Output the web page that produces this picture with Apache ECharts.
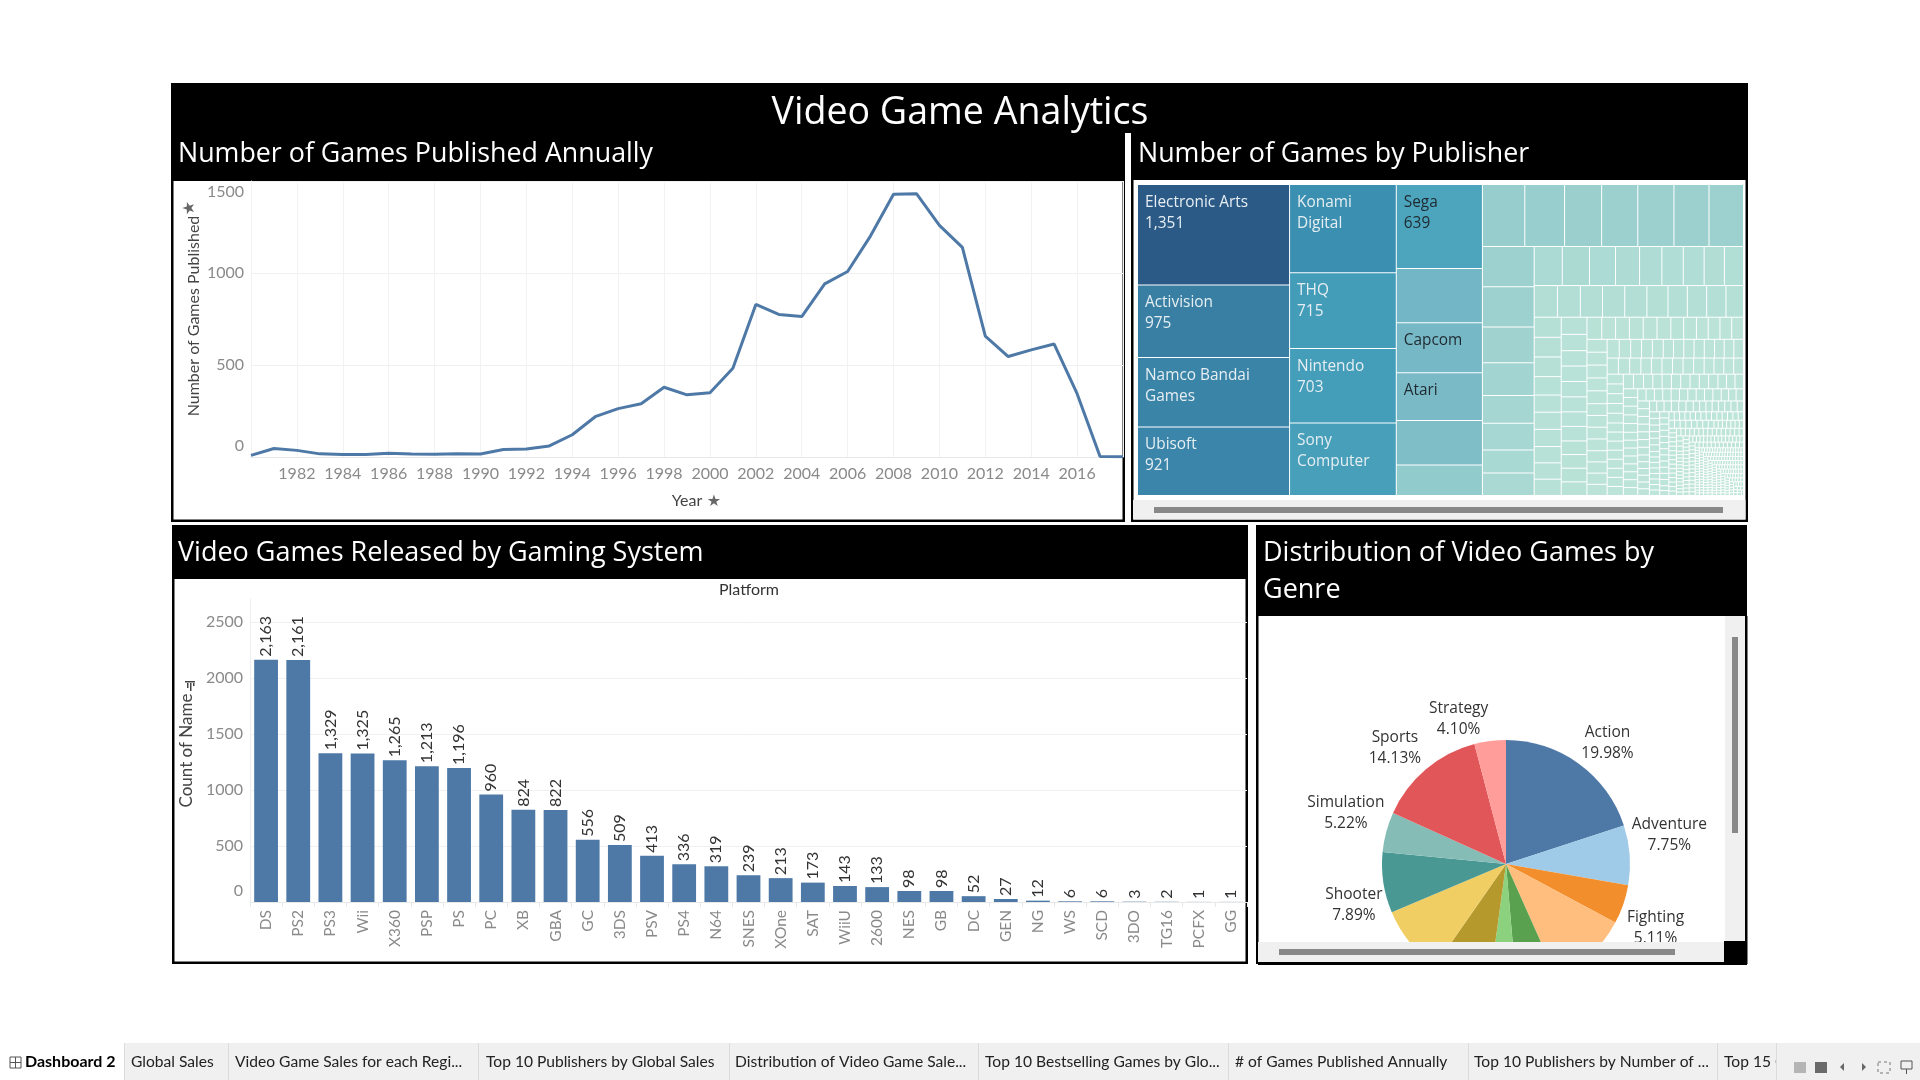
<!DOCTYPE html>
<html>
<head>
<meta charset="utf-8">
<style>html,body{margin:0;padding:0;background:#fff}#c{width:1920px;height:1080px}</style>
<script src="https://cdn.jsdelivr.net/npm/echarts@6/dist/echarts.min.js"></script>
</head>
<body>
<div id="c"></div>
<script>
const years=[1980,1981,1982,1983,1984,1985,1986,1987,1988,1989,1990,1991,1992,1993,1994,1995,1996,1997,1998,1999,2000,2001,2002,2003,2004,2005,2006,2007,2008,2009,2010,2011,2012,2013,2014,2015,2016,2017,2018];
const gamesPerYear=[9,46,36,17,14,14,21,16,15,17,16,41,43,60,121,219,263,289,379,338,349,482,829,775,763,941,1008,1202,1428,1431,1259,1139,657,546,582,614,344,3,1];
const platforms=["DS","PS2","PS3","Wii","X360","PSP","PS","PC","XB","GBA","GC","3DS","PSV","PS4","N64","SNES","XOne","SAT","WiiU","2600","NES","GB","DC","GEN","NG","WS","SCD","3DO","TG16","PCFX","GG"];
const platformCounts=[2163,2161,1329,1325,1265,1213,1196,960,824,822,556,509,413,336,319,239,213,173,143,133,98,98,52,27,12,6,6,3,2,1,1];
const genres=["Action","Adventure","Fighting","Misc","Platform","Puzzle","Racing","Role-Playing","Shooter","Simulation","Sports","Strategy"];
const genreCounts=[3316,1286,848,1739,886,582,1249,1488,1310,867,2346,681];
const genreColors=["#4e79a7","#a0cbe8","#f28e2b","#ffbe7d","#59a14f","#8cd17d","#b6992d","#f1ce63","#499894","#86bcb6","#e15759","#ff9d9a"];
const genreLabelled=["Action","Adventure","Fighting","Shooter","Simulation","Sports","Strategy"];
const genreLabelShift=[[-12,-16],[-15,-20],[-13,22],[0,0],[0,0],[0,0],[0,0],[0,0],[16,21],[15,-17],[10,-17],[10,-16]];
const publisherLabels=["Electronic Arts\n1,351","Activision\n975","Namco Bandai\nGames","Ubisoft\n921","Konami\nDigital","THQ\n715","Nintendo\n703","Sony\nComputer","Sega\n639","","Capcom","Atari"];
const publisherValues=[1351,975,932,921,832,715,703,683,639,413,381,363,338,233,
232,218,203,198,198,192,189,
184,184,164,150,127,122,105,103,
97,94,90,83,77,74,72,70,65,
66,64,62,62,62,59,54,54,54,48,
49,47,47,44,41,41,41,39,39,39,39,
37,35,35,35,34,33,33,31,31,31,31,29,
27,27,27,27,27,25,25,23,23,23,23,23,
23,23,23,23,21,21,21,21,20,20,20,20,20,
19,18,18,18,17,17,17,17,17,16,16,16,16,
16,16,15,15,15,15,14,14,14,14,14,13,13,13,
15,15,14,14,14,14,13,13,13,13,13,12,12,
13,13,12,12,12,12,12,12,11,11,11,11,11,11,11,11,
10,10,10,10,10,10,10,10,9,9,9,9,9,9,9,9,9,9,
8,8,8,8,8,8,8,8,8,8,7,7,7,7,7,7,7,7,7,7,7,7,
6,6,6,6,6,6,6,6,6,6,6,6,6,6,
5,5,5,5,5,5,5,5,5,5,5,5,5,5,5,5,5,5,5,5,
4,4,4,4,4,4,4,4,4,4,4,4,4,4,4,4,4,4,4,4,4,4,4,4,
3,3,3,3,3,3,3,3,3,3,3,3,3,3,3,3,3,3,3,3,3,3,3,3,3,3,3,3,3,3,3,3,3,3,3,3,3,3,3,3,
2,2,2,2,2,2,2,2,2,2,2,2,2,2,2,2,2,2,2,2,2,2,2,2,2,2,2,2,2,2,2,2,2,2,2,2,2,2,2,2,2,2,2,2,2,2,2,2,2,2,2,2,2,2,2,2,2,2,2,2,2,2,2,2,2,2,2,2,2,2,
1,1,1,1,1,1,1,1,1,1,1,1,1,1,1,1,1,1,1,1,1,1,1,1,1,1,1,1,1,1,1,1,1,1,1,1,1,1,1,1,1,1,1,1,1,1,1,1,1,1,1,1,1,1,1,1,1,1,1,1,1,1,1,1,1,1,1,1,1,1,1,1,1,1,1,1,1,1,1,1,1,1,1,1,1,1,1,1,1,1,1,1,1,1,1,1,1,1,1,1,1,1,1,1,1,1,1,1,1,1,1,1,1,1,1,1,1,1,1,1,1,1,1,1,1,1,1,1,1,1,1,1,1,1,1,1,1,1,1,1,1,1,1,1,1,1,1,1,1,1,1,1,1,1,1,1,1,1,1,1,1,1,1,1,1,1,1,1,1,1,1,1,1,1,1,1,1,1,1,1,1,1,1,1,1,1,1,1,1,1,1,1,1,1,1,1,1,1,1,1,1,1,1,1];
const colorStops=[[1,"#bfe5d9"],[50,"#b5e0d6"],[100,"#aad9d3"],[184,"#9dd1cf"],[232,"#97cdcd"],[233,"#92cbcb"],[338,"#7fbdc7"],[381,"#76b8c6"],[413,"#73b6c5"],[639,"#4ca4bd"],[715,"#439cb8"],[832,"#3b8fb0"],[921,"#3a85a9"],[975,"#387fa3"],[1351,"#2c5a87"]];
const darkLabelled=[8,10,11];
const tabNames=["Global Sales","Video Game Sales for each Regi...","Top 10 Publishers by Global Sales","Distribution of Video Game Sale...","Top 10 Bestselling Games by Glo...","# of Games Published Annually","Top 10 Publishers by Number of ...","Top 15 G"];
const tabX=[131,235,486,735,985,1235,1474,1724];
const tabSep=[124,228,478,729,978,1228,1468,1717,1776];

const UI="'Open Sans',sans-serif", TB="Lato,sans-serif";
function hex(c){return [1,3,5].map(i=>parseInt(c.substr(i,2),16));}
function colorFor(v){
  for(let i=1;i<colorStops.length;i++){
    if(v<=colorStops[i][0]){
      const a=colorStops[i-1],b=colorStops[i],t=(v-a[0])/(b[0]-a[0]);
      const A=hex(a[1]),B=hex(b[1]);
      return "rgb("+A.map((x,k)=>Math.round(x+(B[k]-x)*t)).join(",")+")";
    }
  }
  return colorStops[colorStops.length-1][1];
}
const treeData=publisherValues.map((v,i)=>{
  const t=publisherLabels[i];
  return {name:"p"+i,value:v,itemStyle:{color:colorFor(v)},
    label:t?{show:true,formatter:t,color:darkLabelled.includes(i)?"#1f2a30":"#e6eef2"}:{show:false}};
});
const R=(x,y,w,h,fill,z)=>({type:"rect",silent:true,z:z,shape:{x:x,y:y,width:w,height:h},style:{fill:fill}});
const T=(x,y,text,size,color,opt)=>Object.assign({type:"text",silent:true,z:(opt&&opt.z)||50,x:x,y:y,rotation:(opt&&opt.rot)||0,
  style:{text:text,font:((opt&&opt.weight)||"normal")+" "+size+"px "+((opt&&opt.family)||UI),fill:color,textAlign:(opt&&opt.align)||"left",textVerticalAlign:"middle"}},{});
const bg=[
  R(171,83,1577,50,"#000",-5),
  R(171,133,953,48,"#000",-5),
  R(1131,133,617,47,"#000",-5),
  R(171,181,2.5,341,"#000",-5),R(1122.5,133,2.5,389,"#000",-5),R(171,519.5,954,2.5,"#000",-5),
  R(1131,180,2.5,342,"#000",-5),R(1745.5,180,2.5,342,"#000",-5),R(1131,519.5,617,2.5,"#000",-5),
  R(172,525,1076,54,"#000",-5),
  R(172,579,2.5,385,"#000",-5),R(1245.5,579,2.5,385,"#000",-5),R(172,961.5,1076,2.5,"#000",-5),
  R(1256,525,491,91,"#000",-5),
  R(1256,616,2.5,348,"#000",-5),R(1745,616,2.5,348,"#000",-5),
  R(1133,500,612.5,19.5,"#f0f0f0",-4),R(1154,507,569,6,"#888",-3)
];
const covers=[
  R(1258,942,466,20,"#f0f0f0",60),R(1279,949,396,6,"#888",61),
  R(1258,962,489,3,"#000",60),
  R(1725,616,20,325,"#f0f0f0",60),R(1732,637,6,196,"#888",61),
  R(1724,941,23,23,"#000",60),
  R(1250,965,500,40,"#fff",60)
];
const tabs=[
  R(0,1043,1920,37,"#f0f0f0",70),R(0,1043,124,37,"#fff",71),
  T(25,1062,"Dashboard 2",16,"#000",{family:TB,weight:"bold",z:72})
].concat(tabNames.map((n,i)=>T(tabX[i],1062,n,15.6,"#222",{family:TB,z:72})))
 .concat(tabSep.map(x=>R(x,1043,1,37,"#dcdcdc",72)))
 .concat([R(1777,1043,143,37,"#f0f0f0",73)])
 .concat([
  {type:"rect",silent:true,z:74,shape:{x:10,y:1057,width:11,height:11},style:{fill:"none",stroke:"#555",lineWidth:1}},
  R(10,1062,11,1,"#555",74),R(15,1057,1,11,"#555",74),
  R(1794,1062,12,11,"#b5b5b5",74),R(1815,1062,12,11,"#6a6a6a",74),
  {type:"polygon",silent:true,z:74,shape:{points:[[1844,1063],[1844,1071],[1840,1067]]},style:{fill:"#666"}},
  {type:"polygon",silent:true,z:74,shape:{points:[[1862,1063],[1862,1071],[1866,1067]]},style:{fill:"#666"}},
  {type:"rect",silent:true,z:74,shape:{x:1878,y:1062,width:12,height:11},style:{fill:"none",stroke:"#777",lineWidth:1,lineDash:[3,3]}},
  {type:"rect",silent:true,z:74,shape:{x:1901,y:1061,width:11,height:8},style:{fill:"none",stroke:"#555",lineWidth:1}},
  R(1906,1069,1,5,"#555",74)
 ]);
const texts=[
  T(960,113,"Video Game Analytics",37.6,"#fff",{align:"center",z:55}),
  T(178,154,"Number of Games Published Annually",26.8,"#fff"),
  T(1138,154,"Number of Games by Publisher",26.8,"#fff"),
  T(178,553,"Video Games Released by Gaming System",27,"#fff"),
  T(1263,553,"Distribution of Video Games by",27,"#fff"),
  T(1263,590,"Genre",27,"#fff"),
  T(749,590,"Platform",16,"#333",{align:"center",family:TB}),
  T(190,208,"★",16,"#666",{align:"center",rot:Math.PI/2,family:"'DejaVu Sans'"}),
  T(714,502,"★",16,"#666",{align:"center",family:"'DejaVu Sans'"}),
  R(185,681,10,1.5,"#444",50),R(187,683,1.5,5,"#444",50),R(190,683,1.5,8,"#444",50),R(193,683,1.5,3,"#444",50)
];
const axisGray="#8a8a8a";
const option={
  animation:false,
  graphic:{elements:bg.concat(covers,tabs,texts)},
  grid:[
    {left:251,top:181,width:872,height:276},
    {left:250,top:599,width:997,height:303}
  ],
  xAxis:[
    {type:"value",gridIndex:0,min:1980,max:2018,interval:2,
     name:"Year",nameLocation:"middle",nameGap:36,nameTextStyle:{color:"#444",fontFamily:TB,fontSize:16},
     axisLine:{lineStyle:{color:"#e8e8e8"}},axisTick:{show:false},
     splitLine:{show:true,lineStyle:{color:"#f2f2f2"}},
     axisLabel:{color:axisGray,fontFamily:TB,fontSize:16,margin:9,formatter:v=>(v===1980||v===2018)?"":String(v)}},
    {type:"category",gridIndex:1,data:platforms,
     axisLine:{lineStyle:{color:"#e8e8e8"}},axisTick:{show:true,alignWithLabel:false,lineStyle:{color:"#e8e8e8"}},
     axisLabel:{rotate:90,interval:0,color:axisGray,fontFamily:TB,fontSize:15.5,margin:8}}
  ],
  yAxis:[
    {type:"value",gridIndex:0,min:0,max:1500,interval:500,
     name:"Number of Games Published",nameLocation:"middle",nameGap:49,nameTextStyle:{color:"#444",fontFamily:TB,fontSize:16,padding:[0,0,0,6]},
     axisLine:{show:true,lineStyle:{color:"#f2f2f2"}},axisTick:{show:false},
     splitLine:{lineStyle:{color:"#f0f0f0",width:1}},
     axisLabel:{color:axisGray,fontFamily:TB,fontSize:16,lineHeight:22,margin:7,formatter:v=>String(v),verticalAlignMinLabel:"bottom",verticalAlignMaxLabel:"top"}},
    {type:"value",gridIndex:1,min:0,max:2705,interval:500,
     name:"Count of Name",nameLocation:"middle",nameGap:38,nameTextStyle:{color:"#444",fontFamily:TB,fontSize:17},
     axisLine:{show:true,lineStyle:{color:"#eeeeee"}},axisTick:{show:false},
     splitLine:{showMaxLine:false,lineStyle:{color:"#f0f0f0",width:1}},
     axisLabel:{color:axisGray,fontFamily:TB,fontSize:16,lineHeight:22,margin:7,formatter:v=>String(v),showMaxLabel:false,verticalAlignMinLabel:"bottom"}}
  ],
  series:[
    {type:"line",xAxisIndex:0,yAxisIndex:0,data:years.map((y,i)=>[y,gamesPerYear[i]]),showSymbol:false,symbol:"none",
     lineStyle:{color:"#4e79a7",width:3},z:5},
    {type:"bar",xAxisIndex:1,yAxisIndex:1,data:platformCounts,barWidth:"74%",itemStyle:{color:"#4e79a7"},
     label:{show:true,position:"top",rotate:90,align:"left",verticalAlign:"middle",distance:3,color:"#333",fontFamily:TB,fontSize:16,
       formatter:p=>p.value.toLocaleString("en-US")}},
    {type:"treemap",left:1138,top:185,width:605,height:310,roam:false,nodeClick:false,silent:true,
     breadcrumb:{show:false},visibleMin:0,childrenVisibleMin:0,sort:"desc",
     label:{show:false,position:"insideTopLeft",fontFamily:UI,fontSize:15.4,lineHeight:21,padding:[7,0,0,7],overflow:"none"},
     upperLabel:{show:false},
     itemStyle:{gapWidth:1,borderWidth:0,borderColor:"#fff"},
     levels:[{itemStyle:{gapWidth:1,borderWidth:0,borderColor:"#fff"}}],
     data:treeData},
    {type:"pie",center:[1506,864],radius:[0,124],startAngle:90,clockwise:true,avoidLabelOverlap:false,silent:true,z:3,
     data:genres.map((g,i)=>({name:g,value:genreCounts[i],itemStyle:{color:genreColors[i]},
       label:{show:genreLabelled.includes(g)},labelLine:{show:false}})),
     label:{position:"outside",formatter:p=>p.name+"\n"+(p.value/16598*100).toFixed(2)+"%",fontFamily:UI,fontSize:15.5,lineHeight:21,color:"#333",alignTo:"none",edgeDistance:0},
     labelLine:{show:false,length:6,length2:6},
     labelLayout:p=>{
       const half=p.labelRect.width/2, sign=p.align==="right"?-1:1;
       return {dx:genreLabelShift[p.dataIndex][0]+sign*half,dy:genreLabelShift[p.dataIndex][1],align:"center"};
     }}
  ]
};
echarts.init(document.getElementById("c"),null,{renderer:"canvas"}).setOption(option);
</script>
</body>
</html>
